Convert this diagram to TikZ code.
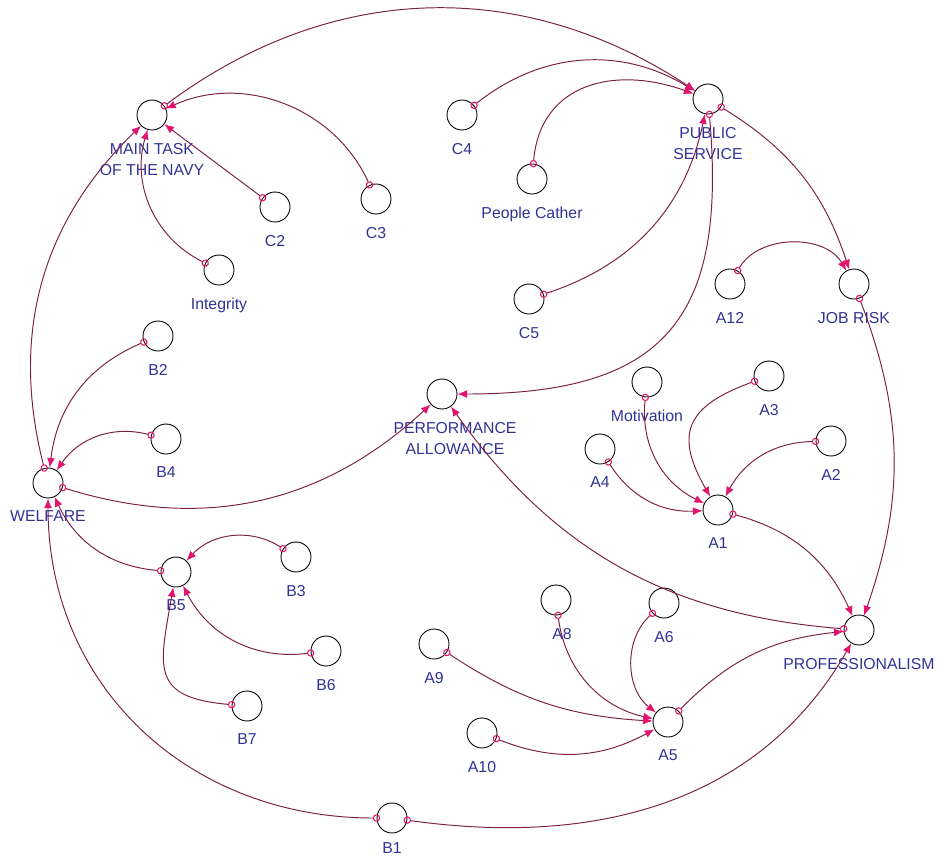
\documentclass[tikz,border=0pt]{standalone}
\usepackage{fontspec}
\setmainfont{Liberation Sans}
\usetikzlibrary{positioning, arrows.meta}
\definecolor{linkred}{RGB}{125,30,70}
\definecolor{tipred}{RGB}{225,20,110}
\definecolor{namblue}{RGB}{50,50,150}
\tikzset{
  auxvar/.style  = {draw, circle, minimum size=0.6cm, inner sep=0pt, line width=0.5pt},
  varname/.style = {inner sep=0pt, align=center, text=namblue, font=\fontsize{9}{12}\selectfont},
  link/.style    = {draw=linkred, line width=0.55pt,
                    {Circle[open, length=4.2pt, color=tipred, line width=0.6pt]}-{Latex[length=5.5pt, width=4.5pt, color=tipred]},
                    shorten <=-2.1pt}
}

\begin{document}
\begin{tikzpicture}[x=0.02cm, y=-0.02cm]
  \useasboundingbox (0,0) rectangle (939,859);

  % variables
  \node[auxvar] (mt)    at (152,115) {};
  \node[auxvar] (c2)    at (275,207) {};
  \node[auxvar] (c3)    at (376,199) {};
  \node[auxvar] (integ) at (219,270) {};
  \node[auxvar] (c4)    at (462,115) {};
  \node[auxvar] (pc)    at (532,179) {};
  \node[auxvar] (ps)    at (708,99)  {};
  \node[auxvar] (c5)    at (529,299) {};
  \node[auxvar] (a12)   at (730,284) {};
  \node[auxvar] (jr)    at (854,284) {};
  \node[auxvar] (b2)    at (158,336) {};
  \node[auxvar] (pa)    at (442,394) {};
  \node[auxvar] (motiv) at (647,382) {};
  \node[auxvar] (a3)    at (769,376) {};
  \node[auxvar] (wf)    at (48,483)  {};
  \node[auxvar] (b4)    at (166,439) {};
  \node[auxvar] (a4)    at (600,449) {};
  \node[auxvar] (a2)    at (831,441) {};
  \node[auxvar] (a1)    at (718,510) {};
  \node[auxvar] (b5)    at (176,572) {};
  \node[auxvar] (b3)    at (296,557) {};
  \node[auxvar] (b6)    at (326,651) {};
  \node[auxvar] (b7)    at (247,706) {};
  \node[auxvar] (a9)    at (434,644) {};
  \node[auxvar] (a8)    at (556,600) {};
  \node[auxvar] (a6)    at (664,603) {};
  \node[auxvar] (prof)  at (859,630) {};
  \node[auxvar] (a5)    at (668,722) {};
  \node[auxvar] (a10)   at (482,733) {};
  \node[auxvar] (b1)    at (392,818) {};

  % names
  \node[varname, below=7pt of mt]    (mtn)    {MAIN TASK\\OF THE NAVY};
  \node[varname, below=7pt of c2]    (c2n)    {C2};
  \node[varname, below=7pt of c3]    (c3n)    {C3};
  \node[varname, below=7pt of integ] (integn) {Integrity};
  \node[varname, below=7pt of c4]    (c4n)    {C4};
  \node[varname, below=7pt of pc]    (pcn)    {People Cather};
  \node[varname, below=7pt of ps]    (psn)    {PUBLIC\\SERVICE};
  \node[varname, below=7pt of c5]    (c5n)    {C5};
  \node[varname, below=7pt of a12]   (a12n)   {A12};
  \node[varname, below=7pt of jr]    (jrn)    {JOB RISK};
  \node[varname, below=7pt of b2]    (b2n)    {B2};
  \node[varname, below=7pt of pa, xshift=0.26cm] (pan) {PERFORMANCE\\ALLOWANCE};
  \node[varname, below=7pt of motiv] (motivn) {Motivation};
  \node[varname, below=7pt of a3]    (a3n)    {A3};
  \node[varname, below=7pt of wf]    (wfn)    {WELFARE};
  \node[varname, below=7pt of b4]    (b4n)    {B4};
  \node[varname, below=7pt of a4]    (a4n)    {A4};
  \node[varname, below=7pt of a2]    (a2n)    {A2};
  \node[varname, below=7pt of a1]    (a1n)    {A1};
  \node[varname, below=7pt of b5]    (b5n)    {B5};
  \node[varname, below=7pt of b3]    (b3n)    {B3};
  \node[varname, below=7pt of b6]    (b6n)    {B6};
  \node[varname, below=7pt of b7]    (b7n)    {B7};
  \node[varname, below=7pt of a9]    (a9n)    {A9};
  \node[varname, below=7pt of a8, xshift=0.12cm] (a8n) {A8};
  \node[varname, below=7pt of a6]    (a6n)    {A6};
  \node[varname, below=7pt of prof]  (profn)  {PROFESSIONALISM};
  \node[varname, below=7pt of a5]    (a5n)    {A5};
  \node[varname, below=7pt of a10]   (a10n)   {A10};
  \node[varname, below=5pt of b1]    (b1n)    {B1};

  % links
  \draw[link] (mt) to[bend left=35] (ps);
  \draw[link] (c3) to[bend right=45] (mt);
  \draw[link] (c2) -- (mt);
  \draw[link] (integ) to[bend left=40] (mt);
  \draw[link] (wf) to[bend left=30] (mt);
  \draw[link] (b2) to[bend right=30] (wf);
  \draw[link] (b4) to[bend right=35] (wf);
  \draw[link] (wf) to[bend right=30] (pa);
  \draw[link] (b5) to[bend left=30] (wf);
  \draw[link] (b1) to[out=180, in=270, looseness=1.05] (wf);
  \draw[link] (b1) to[out=-8, in=240] (prof);
  \draw[link] (b3) to[bend right=40] (b5);
  \draw[link] (b6) to[bend left=35] (b5);
  \draw[link] (b7) to[out=175, in=260, looseness=1.6] (b5);
  \draw[link] (c4) to[bend left=35] (ps);
  \draw[link] (pc) to[out=85, in=160, looseness=1.2] (ps);
  \draw[link] (c5) to[bend right=30] (ps);
  \draw[link] (ps) to[out=-85, in=0, looseness=1.4] (pa);
  \draw[link] (ps) to[bend left=20] (jr);
  \draw[link] (a12) to[bend left=60] (jr);
  \draw[link] (jr) to[bend left=20] (prof);
  \draw[link] (a4) to[bend right=30] (a1);
  \draw[link] (motiv) to[bend right=35] (a1);
  \draw[link] (a3) to[out=200, in=120, looseness=1.5] (a1);
  \draw[link] (a2) to[bend right=30] (a1);
  \draw[link] (a1) to[bend left=25] (prof);
  \draw[link] (a9) to[bend right=15] (a5);
  \draw[link] (a8) to[bend right=35] (a5);
  \draw[link] (a6) to[bend right=50] (a5);
  \draw[link] (a10) to[bend right=25] (a5);
  \draw[link] (a5) to[bend left=20] (prof);
  \draw[link] (prof) to[bend left=25] (pa);
\end{tikzpicture}
\end{document}
